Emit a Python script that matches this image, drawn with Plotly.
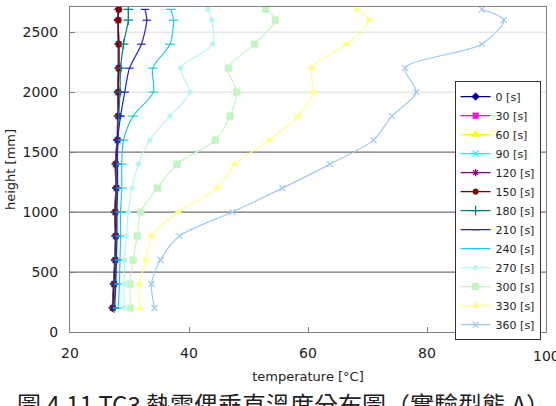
import plotly.graph_objects as go

heights = [200, 400, 600, 800, 1000, 1200, 1400, 1600, 1800, 2000, 2200, 2400, 2600, 2690]

series_names = ["0 [s]", "30 [s]", "60 [s]", "90 [s]", "120 [s]", "150 [s]", "180 [s]",
                "210 [s]", "240 [s]", "270 [s]", "300 [s]", "330 [s]", "360 [s]"]

t0 = [27.1, 27.3, 27.5, 27.6, 27.5, 27.7, 27.6, 27.9, 28.0, 28.0, 28.1, 28.1, 28.0, 28.1]
t30 = [27.2, 27.4, 27.6, 27.7, 27.6, 27.8, 27.7, 28.0, 28.1, 28.1, 28.2, 28.2, 28.1, 28.2]
t60 = [27.2, 27.4, 27.6, 27.7, 27.6, 27.8, 27.7, 28.0, 28.1, 28.1, 28.2, 28.2, 28.1, 28.2]
t90 = [27.2, 27.4, 27.6, 27.7, 27.6, 27.8, 27.7, 28.0, 28.1, 28.1, 28.2, 28.2, 28.1, 28.2]
t120 = [27.2, 27.4, 27.6, 27.7, 27.6, 27.8, 27.7, 28.0, 28.1, 28.1, 28.2, 28.2, 28.1, 28.2]
t150 = [27.2, 27.4, 27.6, 27.7, 27.6, 27.8, 27.7, 28.0, 28.1, 28.1, 28.2, 28.2, 28.1, 28.2]
t180 = [27.4, 27.6, 27.7, 27.8, 27.8, 27.9, 27.9, 28.1, 28.2, 28.4, 28.5, 29.0, 29.8, 29.8]
t210 = [27.5, 27.7, 27.8, 27.9, 27.9, 28.0, 28.0, 28.0, 28.5, 29.2, 30.0, 32.0, 32.9, 32.6]
t240 = [28.1, 28.3, 28.4, 28.5, 28.5, 28.7, 28.7, 29.0, 30.6, 34.0, 33.9, 36.8, 37.4, 36.9]
t270 = [29.1, 29.1, 29.2, 29.5, 29.8, 30.4, 31.5, 33.4, 36.8, 40.1, 38.6, 44.0, 43.8, 43.2]
t300 = [30.2, 30.1, 30.6, 31.3, 31.9, 34.7, 38.0, 44.4, 46.9, 48.0, 46.6, 51.0, 54.5, 52.9]
t330 = [31.8, 31.6, 32.8, 33.7, 38.2, 44.7, 47.7, 53.5, 58.4, 60.9, 60.6, 66.5, 70.3, 68.2]
t360 = [34.2, 33.7, 35.2, 38.4, 47.3, 55.7, 63.7, 71.0, 74.1, 78.2, 76.3, 89.2, 92.9, 89.2]

x_ticks = [20, 40, 60, 80, 100]
y_ticks = [0, 500, 1000, 1500, 2000, 2500]
dark_grid = [500, 1000, 1500]
light_grid = [2000, 2500]

caption = "圖 4.11 TC3 熱電偶垂直溫度分布圖（實驗型態 A）"

all_series = [t0, t30, t60, t90, t120, t150, t180, t210, t240, t270, t300, t330, t360]
colors = ["#000080", "#ff00ff", "#ffff00", "#00ffff", "#800080", "#800000", "#008080",
          "#2020e0", "#20c8f0", "#b8f4f4", "#c4f4c4", "#ffff90", "#a0c8f8"]
symbols = ["diamond", "square", "triangle-up", "x-thin-open", "asterisk-open", "circle",
           "cross-thin-open", "line-ew-open", "line-ew-open", "circle", "square",
           "triangle-up", "x-thin-open"]
sizes = [5, 5, 6, 6, 6, 5, 7, 6, 7, 4, 6, 6, 6]

fig = go.Figure()
for name, vals, c, s, sz in zip(series_names, all_series, colors, symbols, sizes):
    fig.add_trace(go.Scatter(
        x=vals, y=heights, name=name, mode="lines+markers",
        line=dict(color=c, width=1.2, shape="spline", smoothing=0.8),
        marker=dict(color=c, symbol=s, size=sz, line=dict(color=c, width=1.2)),
    ))

shapes = []
for g in dark_grid:
    shapes.append(dict(type="line", xref="paper", yref="y", x0=0, x1=1, y0=g, y1=g,
                       line=dict(color="#707070", width=1.2), layer="below"))
for g in light_grid:
    shapes.append(dict(type="line", xref="paper", yref="y", x0=0, x1=1, y0=g, y1=g,
                       line=dict(color="#dcdcdc", width=1), layer="below"))

font_family = "DejaVu Sans"
annotations = [
    dict(text=caption, xref="paper", yref="paper", x=0.448, y=-0.16,
         xanchor="center", yanchor="top", showarrow=False,
         font=dict(size=24, family="Noto Sans CJK TC", color="#222222")),
    dict(text=str(x_ticks[-1]), xref="x", yref="paper", x=x_ticks[-1], y=-0.074,
         xanchor="center", yanchor="middle", showarrow=False,
         font=dict(size=14, family=font_family, color="#222222")),
]

fig.update_layout(
    width=556, height=406,
    margin=dict(l=70, r=10, t=7, b=74),
    paper_bgcolor="white", plot_bgcolor="white",
    font=dict(family=font_family, color="#222222"),
    shapes=shapes,
    showlegend=True,
    legend=dict(x=0.808, y=0.772, xanchor="left", yanchor="top",
                bgcolor="white", bordercolor="#333333", borderwidth=1,
                font=dict(size=11, family=font_family, color="#222222"),
                itemwidth=30, tracegroupgap=0),
    xaxis=dict(range=[20, 100], tickvals=x_ticks[:-1], ticks="inside", ticklen=5,
               tickcolor="#808080", showgrid=False, zeroline=False,
               showline=True, linecolor="#808080", linewidth=1, mirror=True,
               tickfont=dict(size=14, family=font_family), ticklabelstandoff=8,
               title=dict(text="temperature [°C]", font=dict(size=13, family=font_family),
                          standoff=12)),
    yaxis=dict(range=[0, 2710], tickvals=y_ticks, ticks="inside", ticklen=5,
               tickcolor="#808080", showgrid=False, zeroline=False,
               showline=True, linecolor="#808080", linewidth=1, mirror=True,
               tickfont=dict(size=14, family=font_family), ticklabelstandoff=8,
               title=dict(text="height [mm]", font=dict(size=13, family=font_family),
                          standoff=4)),
    annotations=annotations,
)

fig.write_html("out.html")
